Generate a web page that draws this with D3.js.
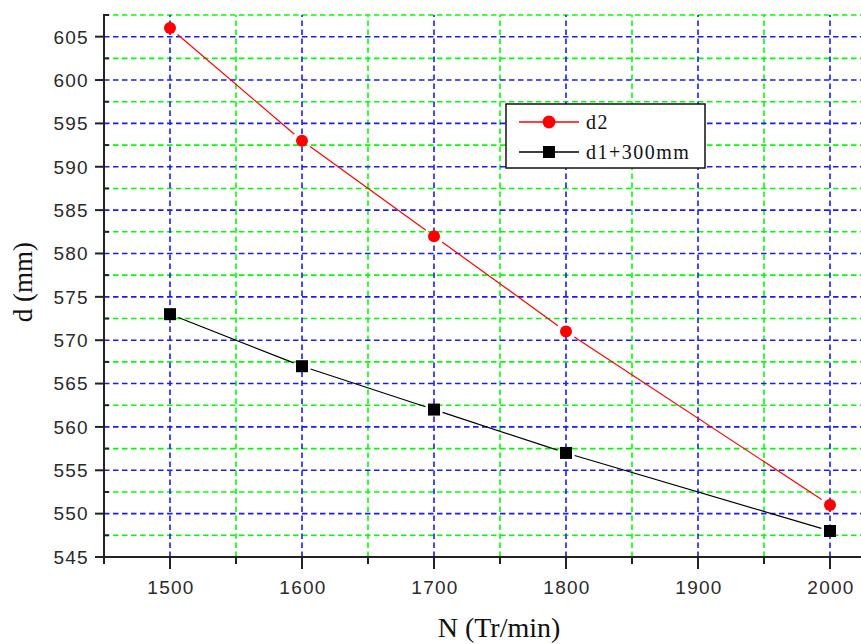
<!DOCTYPE html>
<html><head><meta charset="utf-8">
<script src="https://cdn.jsdelivr.net/npm/d3@7"></script>
<style>html,body{margin:0;padding:0;background:#fff;}svg{display:block;}</style>
</head><body>
<svg id="c" width="861" height="644"></svg>
<script>
const nValues = [1500, 1600, 1700, 1800, 2000];
const d2 = [606, 593, 582, 571, 551];
const d1p300 = [573, 567, 562, 557, 548];
const seriesNames = ["d2", "d1+300mm"];
const xTicks = [1500, 1600, 1700, 1800, 1900, 2000];
const yTicks = [545, 550, 555, 560, 565, 570, 575, 580, 585, 590, 595, 600, 605];
const xMinor = [1450, 1550, 1650, 1750, 1850, 1950, 2050];
const yMinor = [547.5, 552.5, 557.5, 562.5, 567.5, 572.5, 577.5, 582.5, 587.5, 592.5, 597.5, 602.5, 607.5];

const svg = d3.select("#c");
const L = 104, T = 15, B = 557, R = 896;
const x = d3.scaleLinear().domain([1450, 2050]).range([L, R]);
const y = d3.scaleLinear().domain([545, 607.5]).range([B, T]);

const grid = svg.append("g");
// minor grid (green)
grid.selectAll(".gxm").data(xMinor.filter(v => v > 1450)).join("line")
  .attr("x1", d => x(d)).attr("x2", d => x(d)).attr("y1", B).attr("y2", T)
  .attr("stroke", "#00ff00").attr("stroke-width", 1.6).attr("stroke-dasharray", "5.5,3.5");
grid.selectAll(".gym").data(yMinor).join("line")
  .attr("x1", L).attr("x2", 861).attr("y1", d => y(d)).attr("y2", d => y(d))
  .attr("stroke", "#00ff00").attr("stroke-width", 1.6).attr("stroke-dasharray", "5.5,3.5");
// major grid (blue)
grid.selectAll(".gx").data(xTicks).join("line")
  .attr("x1", d => x(d)).attr("x2", d => x(d)).attr("y1", B).attr("y2", T)
  .attr("stroke", "#1a1aff").attr("stroke-width", 1.6).attr("stroke-dasharray", "5.5,3.5");
grid.selectAll(".gy").data(yTicks.filter(v => v > 545)).join("line")
  .attr("x1", L).attr("x2", 861).attr("y1", d => y(d)).attr("y2", d => y(d))
  .attr("stroke", "#1a1aff").attr("stroke-width", 1.6).attr("stroke-dasharray", "5.5,3.5");

// series lines with gaps near markers
function drawSeries(vals, color, gap) {
  const pts = nValues.map((n, i) => [x(n), y(vals[i])]);
  const g = svg.append("g");
  for (let i = 0; i < pts.length - 1; i++) {
    const [x1, y1] = pts[i], [x2, y2] = pts[i + 1];
    const dx = x2 - x1, dy = y2 - y1, len = Math.hypot(dx, dy);
    const ux = dx / len, uy = dy / len;
    g.append("line")
      .attr("x1", x1 + ux * gap).attr("y1", y1 + uy * gap)
      .attr("x2", x2 - ux * gap).attr("y2", y2 - uy * gap)
      .attr("stroke", color).attr("stroke-width", 1.2);
  }
  return g;
}
drawSeries(d2, "#ff0000", 10);
drawSeries(d1p300, "#000000", 9);

svg.append("g").selectAll("circle").data(nValues).join("circle")
  .attr("cx", d => x(d)).attr("cy", (d, i) => y(d2[i])).attr("r", 6).attr("fill", "#ff0000");
svg.append("g").selectAll("rect").data(nValues).join("rect")
  .attr("x", d => x(d) - 6).attr("y", (d, i) => y(d1p300[i]) - 6)
  .attr("width", 12).attr("height", 12).attr("fill", "#000");

// axes
const axc = "#222";
const ax = svg.append("g");
ax.append("line").attr("x1", L).attr("x2", L).attr("y1", T - 1).attr("y2", B).attr("stroke", axc).attr("stroke-width", 2);
ax.append("line").attr("x1", L - 1).attr("x2", 861).attr("y1", B).attr("y2", B).attr("stroke", axc).attr("stroke-width", 2);
// y ticks
ax.selectAll(".yt").data(yTicks).join("line")
  .attr("x1", L - 9).attr("x2", L).attr("y1", d => y(d)).attr("y2", d => y(d))
  .attr("stroke", axc).attr("stroke-width", 2);
ax.selectAll(".ytm").data(yMinor).join("line")
  .attr("x1", L).attr("x2", L + 5).attr("y1", d => y(d)).attr("y2", d => y(d))
  .attr("stroke", axc).attr("stroke-width", 2);
// x ticks
ax.selectAll(".xt").data(xTicks).join("line")
  .attr("x1", d => x(d)).attr("x2", d => x(d)).attr("y1", B).attr("y2", B + 12)
  .attr("stroke", axc).attr("stroke-width", 2);
ax.selectAll(".xtm").data(xMinor).join("line")
  .attr("x1", d => x(d)).attr("x2", d => x(d)).attr("y1", B).attr("y2", B + 7)
  .attr("stroke", axc).attr("stroke-width", 2);

const tickFont = "'Liberation Sans', Arial, sans-serif";
ax.selectAll(".yl").data(yTicks).join("text")
  .attr("x", 89).attr("y", d => y(d)).attr("dy", "0.36em")
  .attr("text-anchor", "end").attr("font-family", tickFont).attr("font-size", 19)
  .attr("letter-spacing", 1.3).attr("fill", "#2a2a2a").text(d => d);
ax.selectAll(".xl").data(xTicks).join("text")
  .attr("x", d => x(d) + 1).attr("y", 594)
  .attr("text-anchor", "middle").attr("font-family", tickFont).attr("font-size", 19)
  .attr("letter-spacing", 1.3).attr("fill", "#2a2a2a").text(d => d);

// axis titles
svg.append("text").attr("x", 499).attr("y", 637).attr("text-anchor", "middle")
  .attr("font-family", "'Liberation Serif', 'Times New Roman', serif").attr("font-size", 28)
  .attr("fill", "#111").text("N (Tr/min)");
svg.append("text").attr("transform", "translate(32,282) rotate(-90)").attr("text-anchor", "middle")
  .attr("font-family", "'Liberation Serif', 'Times New Roman', serif").attr("font-size", 27)
  .attr("fill", "#111").text("d (mm)");

// legend
const lg = svg.append("g");
lg.append("rect").attr("x", 506).attr("y", 104).attr("width", 199).attr("height", 64)
  .attr("fill", "#fff").attr("stroke", "#111").attr("stroke-width", 1.5);
const legY = [122, 152];
const legColors = ["#ff0000", "#000000"];
seriesNames.forEach((name, i) => {
  lg.append("line").attr("x1", 519).attr("x2", 579).attr("y1", legY[i]).attr("y2", legY[i])
    .attr("stroke", legColors[i]).attr("stroke-width", 1.3);
  if (i === 0) {
    lg.append("circle").attr("cx", 549).attr("cy", legY[i]).attr("r", 6.5).attr("fill", "#ff0000");
  } else {
    lg.append("rect").attr("x", 543).attr("y", legY[i] - 6).attr("width", 12).attr("height", 12).attr("fill", "#000");
  }
  lg.append("text").attr("x", 586).attr("y", legY[i]).attr("dy", "0.35em")
    .attr("font-family", "'Liberation Serif', 'Times New Roman', serif").attr("font-size", 20)
    .attr("letter-spacing", 1.5).attr("fill", "#111").text(name);
});
</script>
</body></html>
